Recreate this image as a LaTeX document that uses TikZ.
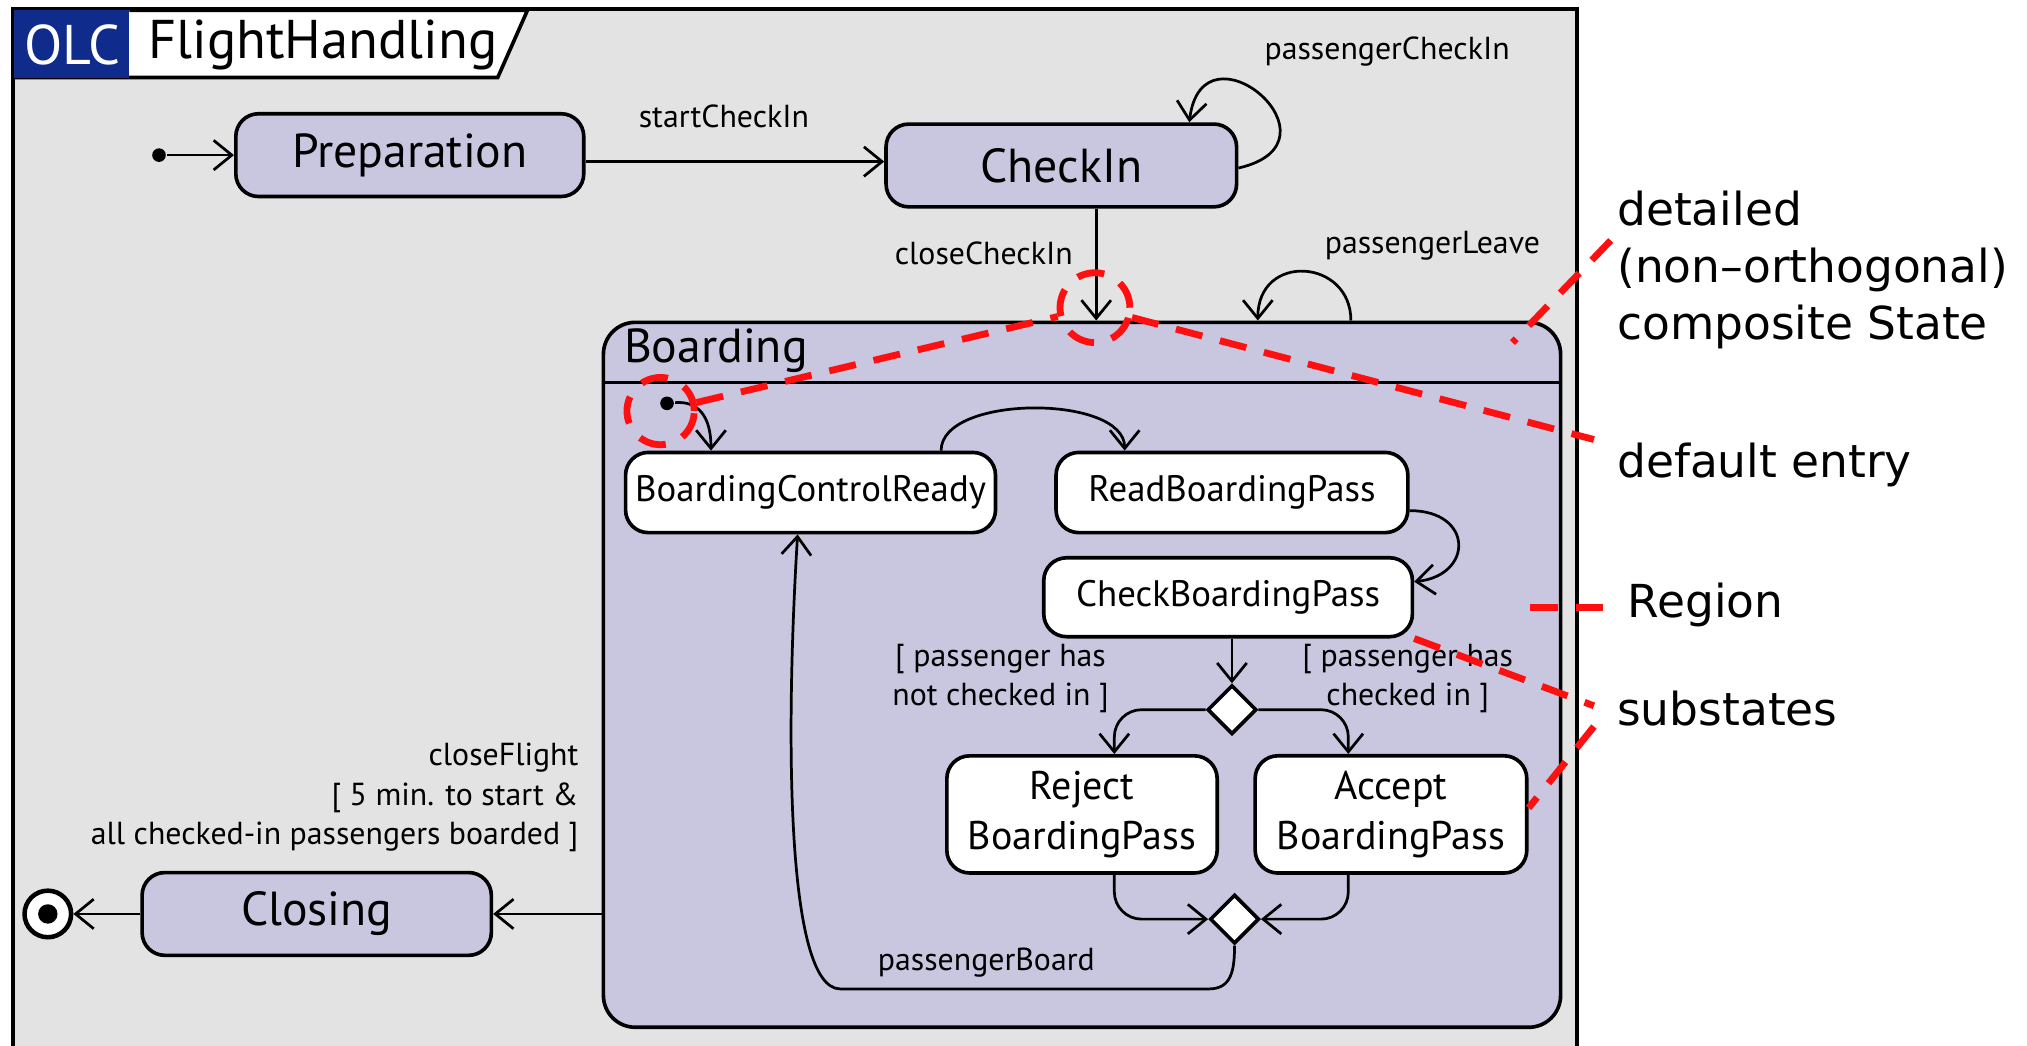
\documentclass[tikz,border=0pt]{standalone}
\usepackage{fontspec}
\setmainfont{PT Sans}
\newfontfamily\notefont{DejaVu Sans}
\usepackage{tikz}
\usetikzlibrary{arrows.meta}
\usetikzlibrary{calc}
\usetikzlibrary{shapes.geometric}

\definecolor{framegray}{HTML}{E3E3E3}
\definecolor{statefill}{HTML}{C9C6E0}
\definecolor{olcblue}{HTML}{0F2B8C}
\definecolor{notered}{HTML}{FF1010}

\begin{document}
\begin{tikzpicture}[x=0.01cm, y=-0.01cm, >={Straight Barb[length=4pt,width=6.5pt]}, line width=0.6pt]
		\tikzstyle{olcstate}=[draw, line width=0.8pt, fill=statefill, rounded corners=5pt, minimum height=0.64cm, font=\fontsize{10.5}{12}\selectfont]
		\tikzstyle{substate}=[draw, line width=0.8pt, fill=white, rounded corners=5pt, minimum height=0.62cm, inner xsep=2pt, align=center, font=\fontsize{8.1}{11}\selectfont]
		\tikzstyle{choice}=[draw, diamond, fill=white, line width=0.8pt, minimum size=0.38cm, inner sep=0pt]
		\tikzstyle{initdot}=[circle, fill=black, minimum size=3pt, inner sep=0pt]
		\tikzstyle{trans}=[font=\fontsize{7}{8.7}\selectfont, inner sep=1pt]
		\tikzstyle{note}=[font=\notefont\fontsize{10}{12.5}\selectfont, align=left, anchor=west, inner sep=0pt]
		\tikzstyle{pointer}=[draw=notered, line width=1.5pt, dash pattern=on 6pt off 4pt]

		\useasboundingbox (0,0) rectangle (1568,809);
		\fill[white] (0,0) rectangle (1568,809);

    % Frame
		\draw[fill=framegray, line width=0.9pt] (10,7) rectangle (1220,812);
		\draw[fill=white, line width=0.8pt] (100,8) -- (408,8) -- (385,60) -- (10,60);
		\fill[olcblue] (11,8) rectangle (100,60);
		\node[text=white, font=\fontsize{12.3}{14}\selectfont] (olc) at (56,35) {OLC};
		\node[anchor=west, font=\fontsize{12}{14}\selectfont] (title) at (102,35) {FlightHandling};

    % Top level states
		\node[initdot] (start) at (123,120) {};
		\node[olcstate, minimum width=2.69cm] (prep) at (317,120) {Preparation};
		\node[olcstate, minimum width=2.71cm] (checkin) at (821,128) {CheckIn};
		\node[olcstate, minimum width=2.70cm] (closing) at (245,707) {Closing};
		\node[circle, draw, fill=white, line width=1pt, minimum size=0.36cm, inner sep=0pt] (final) at (37,707) {};
		\node[circle, fill=black, minimum size=0.15cm, inner sep=0pt] (finaldot) at (final) {};

    % Composite state
		\node[draw, fill=statefill, line width=0.8pt, rounded corners=7pt, minimum width=7.4cm, minimum height=5.45cm] (boarding) at (837,522) {};
		\draw[line width=0.8pt] (boarding.west |- 0,296) -- (boarding.east |- 0,296);
		\node[anchor=west, font=\fontsize{10.5}{12}\selectfont] (boardname) at (470,271) {Boarding};

    % Substates
		\node[initdot] (subinit) at (516,312) {};
		\node[substate, minimum width=2.86cm] (bcr) at (627,381) {BoardingControlReady};
		\node[substate, minimum width=2.72cm] (rbp) at (953,381) {ReadBoardingPass};
		\node[substate, minimum width=2.85cm, minimum height=0.61cm] (cbp) at (950,462) {CheckBoardingPass};
		\node[choice] (d1) at (953,549) {};
		\node[substate, minimum width=2.09cm, minimum height=0.9cm, font=\fontsize{8.8}{11}\selectfont] (reject) at (837,630) {Reject\\BoardingPass};
		\node[substate, minimum width=2.1cm, minimum height=0.9cm, font=\fontsize{8.8}{11}\selectfont] (accept) at (1076,630) {Accept\\BoardingPass};
		\node[choice] (d2) at (955,711) {};

    % Transitions
		\draw[->] (start) -- (prep);
		\draw[->] (prep.east |- 0,125) -- (checkin.west |- 0,125);
		\draw[->] (checkin.east |- 0,130) .. controls (1045,110) and (930,12) .. (checkin.north -| 920,0);
		\draw[->] (checkin.south -| 848,0) -- (boarding.north -| 848,0);
		\draw[->] (boarding.north -| 1045,0) .. controls (1045,200) and (973,195) .. (boarding.north -| 973,0);
		\draw[->] (boarding.west |- closing) -- (closing);
		\draw[->] (closing) -- (final);

		\draw[->] (subinit) .. controls (540,310) and (550,322) .. (bcr.north -| 550,0);
		\draw[->] (bcr.north -| 728,0) .. controls (728,305) and (870,305) .. (rbp.north -| 870,0);
		\draw[->] (rbp.east |- 0,395) .. controls (1140,395) and (1140,445) .. (cbp.east |- 0,450);
		\draw[->] (cbp.south -| d1) -- (d1.north);
		\draw[->, rounded corners=6pt] (d1.west) -| ($(reject.north)+(25,0)$);
		\draw[->, rounded corners=6pt] (d1.east) -| ($(accept.north)+(-33,0)$);
		\draw[->, rounded corners=6pt] ($(reject.south)+(25,0)$) |- (d2.west);
		\draw[->, rounded corners=6pt] ($(accept.south)+(-33,0)$) |- (d2.east);
		\draw[->] (d2.south) .. controls (955,752) and (952,765) .. (935,765) -- (650,765) .. controls (607,765) and (608,560) .. (bcr.south -| 617,0);

    % Labels
		\node[trans] (startlbl) at (560,90) {startCheckIn};
		\node[trans] (cilbl) at (1073,40) {passengerCheckIn};
		\node[trans] (ccilbl) at (761,196) {closeCheckIn};
		\node[trans] (leavelbl) at (1108,190) {passengerLeave};
		\node[trans, align=right, anchor=east] (flightlbl) at (452,617) {closeFlight\\{[} 5 min. to start \&\\all checked-in passengers boarded ]};
		\node[trans, align=center] (notinlbl) at (774,525) {{[} passenger has\\not checked in ]};
		\node[trans, align=center] (inlbl) at (1089,525) {{[} passenger has\\checked in ]};
		\node[trans] (boardlbl) at (763,745) {passengerBoard};

    % Annotations
		\node[note] (compnote) at (1250,209) {detailed\\(non–orthogonal)\\composite State};
		\node[note] (entrynote) at (1250,360) {default entry};
		\node[note] (regionnote) at (1258,468) {Region};
		\node[note] (subnote) at (1250,548) {substates};
		\node[circle, pointer, minimum size=0.54cm] (ccring) at (847,238) {};
		\node[circle, pointer, minimum size=0.52cm] (entryring) at (511,318) {};
		\coordinate (comptip) at (1246,186);
		\coordinate (boardcorner) at (1170,265);
		\coordinate (entrytip) at (1233,340);
		\coordinate (regiontip) at (1240,470);
		\coordinate (regionfoot) at (1183,470);
		\coordinate (subtip) at (1233,546);
		\coordinate (subtipb) at (1233,562);
		\draw[pointer] (comptip) -- (boardcorner);
		\draw[pointer] (entryring) -- (ccring);
		\draw[pointer] (ccring) -- (entrytip);
		\draw[pointer] (regiontip) -- (regionfoot);
		\draw[pointer] (cbp.south east) -- (subtip);
		\draw[pointer] (subtipb) -- (accept.east |- 0,625);
  \end{tikzpicture}
\end{document}
